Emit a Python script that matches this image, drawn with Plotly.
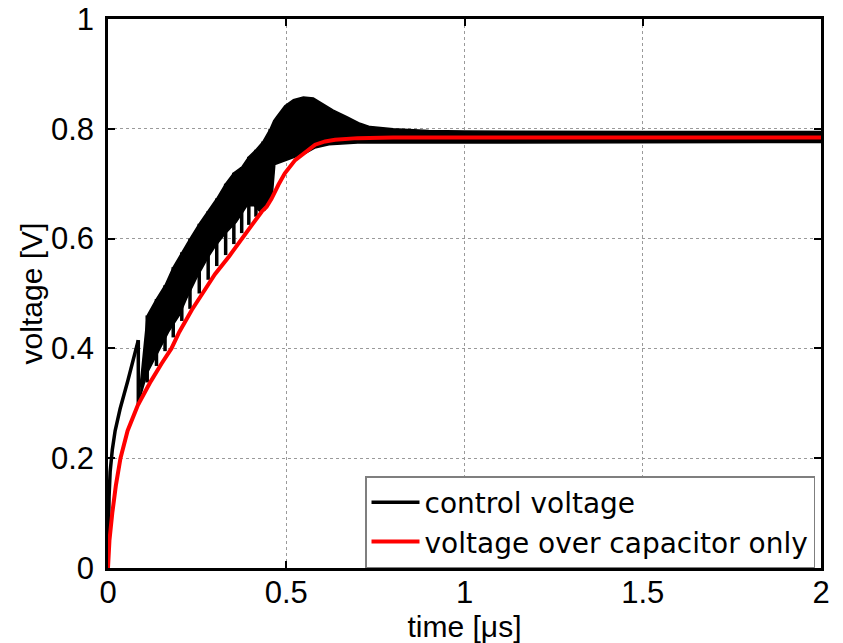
import plotly.graph_objects as go

# ---- data (time in µs, voltage in V) ----
# voltage over capacitor only (red)
cap_t = [0, 0.004, 0.012, 0.022, 0.035, 0.055, 0.084, 0.12, 0.15, 0.178, 0.2, 0.235,
         0.265, 0.3, 0.34, 0.377, 0.412, 0.431, 0.445, 0.459, 0.478, 0.496, 0.525,
         0.553, 0.581, 0.609, 0.637, 0.7, 0.8, 1.0, 2.0]
cap_v = [0, 0.05, 0.1, 0.15, 0.2, 0.25, 0.297, 0.34, 0.372, 0.4, 0.43, 0.47,
         0.5, 0.535, 0.568, 0.6, 0.631, 0.649, 0.658, 0.673, 0.698, 0.719, 0.743,
         0.758, 0.771, 0.777, 0.78, 0.783, 0.784, 0.784, 0.784]

# control voltage (black): initial smooth rise
ctrl_rise_t = [0, 0.001, 0.003, 0.006, 0.012, 0.02, 0.034, 0.056, 0.07, 0.085]
ctrl_rise_v = [0, 0.07, 0.13, 0.175, 0.215, 0.25, 0.29, 0.342, 0.375, 0.415]

# sawtooth teeth: time of each drop, value before the drop, bottom of the drop
tooth_t = [0.085, 0.11, 0.136, 0.16, 0.183, 0.207, 0.23, 0.256, 0.281, 0.305,
           0.33, 0.353, 0.375, 0.395, 0.415, 0.435, 0.455]
tooth_top = [0.415, 0.46, 0.49, 0.515, 0.548, 0.575, 0.6, 0.627, 0.65, 0.673,
             0.7, 0.72, 0.73, 0.749, 0.762, 0.777, 0.8]
tooth_bottom = [0.297, 0.338, 0.368, 0.395, 0.42, 0.45, 0.472, 0.5, 0.525, 0.55,
                0.57, 0.59, 0.61, 0.625, 0.64, 0.652, 0.67]

# envelope of the fast oscillation (upper and lower edge of the solid black band)
env_up_t = [0.09, 0.11, 0.136, 0.16, 0.183, 0.207, 0.23, 0.256, 0.281, 0.305,
            0.33, 0.353, 0.375, 0.395, 0.415, 0.435, 0.455, 0.465, 0.473, 0.496,
            0.52, 0.548, 0.576, 0.604, 0.632, 0.67, 0.707, 0.735, 0.8, 0.9, 1.0,
            1.5, 2.0]
env_up_v = [0.33, 0.46, 0.49, 0.515, 0.548, 0.575, 0.6, 0.627, 0.65, 0.673,
            0.7, 0.72, 0.73, 0.749, 0.762, 0.777, 0.8, 0.815, 0.822, 0.842,
            0.853, 0.858, 0.856, 0.845, 0.834, 0.822, 0.81, 0.804, 0.8, 0.797, 0.796,
            0.795, 0.795]
env_lo_t = [0.09, 0.11, 0.13, 0.15, 0.17, 0.2, 0.22, 0.25, 0.28, 0.3, 0.33, 0.36,
            0.39, 0.41, 0.425, 0.44, 0.46, 0.468, 0.5, 0.53, 0.555, 0.58, 0.62,
            0.7, 1.0, 2.0]
env_lo_v = [0.31, 0.355, 0.38, 0.405, 0.43, 0.46, 0.49, 0.53, 0.565, 0.585, 0.61,
            0.63, 0.66, 0.66, 0.65, 0.652, 0.672, 0.735, 0.742, 0.75, 0.756, 0.765,
            0.771, 0.774, 0.774, 0.775]

x_ticks = [0, 0.5, 1, 1.5, 2]
x_tick_labels = ["0", "0.5", "1", "1.5", "2"]
y_ticks = [0, 0.2, 0.4, 0.6, 0.8, 1]
y_tick_labels = ["0", "0.2", "0.4", "0.6", "0.8", "1"]

# ---- build traces ----
band_x = env_up_t + env_lo_t[::-1]
band_y = env_up_v + env_lo_v[::-1]

ctrl_x = list(ctrl_rise_t)
ctrl_y = list(ctrl_rise_v)
for t, top, bot in zip(tooth_t, tooth_top, tooth_bottom):
    ctrl_x += [None, t, t]
    ctrl_y += [None, top, bot]

fig = go.Figure()
fig.add_trace(go.Scatter(x=band_x, y=band_y, fill="toself", fillcolor="black",
                         mode="lines", line=dict(color="black", width=1.5),
                         showlegend=False, hoverinfo="skip"))
fig.add_trace(go.Scatter(x=ctrl_x, y=ctrl_y, mode="lines", name="control voltage",
                         line=dict(color="black", width=3.5), connectgaps=False))
fig.add_trace(go.Scatter(x=cap_t, y=cap_v, mode="lines",
                         name="voltage over capacitor only",
                         line=dict(color="#ff0000", width=4)))

font_family = "Liberation Sans, Arial, Helvetica, sans-serif"
axis_common = dict(
    showline=True, linecolor="black", linewidth=2.5, mirror="ticks",
    ticks="inside", ticklen=7, tickwidth=2, tickcolor="black",
    showgrid=True, gridcolor="#9a9a9a", gridwidth=1, griddash="dot",
    zeroline=False, automargin=False, ticklabeloverflow="allow",
    tickfont=dict(size=31, color="black", family=font_family),
)

# the page body adds an 8px margin, so the figure is 8px smaller than the window
fig.update_layout(
    width=835, height=635,
    margin=dict(l=100, r=22, t=11, b=75),
    paper_bgcolor="white", plot_bgcolor="white",
    font=dict(family=font_family, color="black"),
    xaxis=dict(range=[0, 2], tickvals=x_ticks, ticktext=x_tick_labels,
               ticklabelstandoff=-5,
               title=dict(text="time [\u03bcs]", font=dict(size=30), standoff=4),
               **axis_common),
    yaxis=dict(range=[0, 1], tickvals=y_ticks, ticktext=y_tick_labels,
               ticklabelstandoff=5,
               title=dict(text="voltage [V]", font=dict(size=30), standoff=0),
               **axis_common),
    legend=dict(x=0.9916, xanchor="right", y=0.0, yanchor="bottom",
                bgcolor="white", bordercolor="#7f7f7f", borderwidth=1.5,
                font=dict(size=28, color="black", family="DejaVu Sans, sans-serif"),
                tracegroupgap=0, itemwidth=48),
    showlegend=True,
)

fig.write_html("out.html")
